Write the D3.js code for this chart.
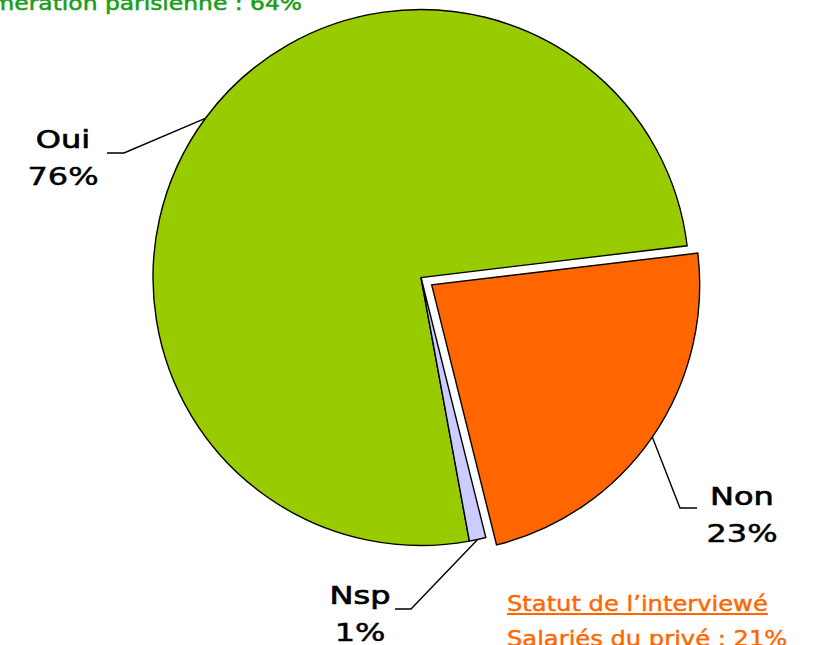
<!DOCTYPE html>
<html>
<head>
<meta charset="utf-8">
<script src="https://cdn.jsdelivr.net/npm/d3@7"></script>
<style>
  body { margin: 0; background: #fff; overflow: hidden; }
  svg { display: block; font-family: "DejaVu Sans", Verdana, sans-serif; }
</style>
</head>
<body>
<div id="chart"></div>
<script>
var svgWidth = 821;
var svgHeight = 645;

// data
var categories = ["Oui", "Non", "Nsp"];
var values = [76, 23, 1];
var colors = ["#99cc00", "#ff6600", "#ccccff"];
var explode = [0, 13, 0];
var pctLabels = ["76%", "23%", "1%"];

// label placement (text centre + leader elbow), per slice
var labelPos = [
  {x: 63, y: 148, elbowX: 124, lineY: 153, endX: 107},
  {x: 742, y: 505, elbowX: 680, lineY: 508, endX: 697},
  {x: 360, y: 604, elbowX: 411, lineY: 609, endX: 395}
];

var cx = 421, cy = 277.5, radius = 268;
var startDeg = 169.6;
var textScale = 1.28;

var svg = d3.select("#chart")
  .append("svg")
  .attr("width", svgWidth)
  .attr("height", svgHeight);

var pieData = d3.pie()
  .sort(null)
  .value(d => d)
  .startAngle(startDeg * Math.PI / 180)
  .endAngle(startDeg * Math.PI / 180 + 2 * Math.PI)(values);

var arc = d3.arc().innerRadius(0).outerRadius(radius);

var pieGroup = svg.append("g")
  .attr("transform", `translate(${cx}, ${cy})`);

function offset(d, i) {
  var mid = (d.startAngle + d.endAngle) / 2;
  return [explode[i] * Math.sin(mid), -explode[i] * Math.cos(mid)];
}

pieGroup.selectAll("path")
  .data(pieData)
  .enter()
  .append("path")
  .attr("transform", (d, i) => { var o = offset(d, i); return `translate(${o[0]}, ${o[1]})`; })
  .attr("d", arc)
  .attr("fill", (d, i) => colors[i])
  .attr("stroke", "#000")
  .attr("stroke-width", 1.4)
  .attr("stroke-linejoin", "miter");

// leader lines and labels
pieData.forEach(function(d, i) {
  var mid = (d.startAngle + d.endAngle) / 2;
  var o = offset(d, i);
  var px = cx + o[0] + radius * Math.sin(mid);
  var py = cy + o[1] - radius * Math.cos(mid);
  var lp = labelPos[i];
  svg.append("polyline")
    .attr("points", `${px},${py} ${lp.elbowX},${lp.lineY} ${lp.endX},${lp.lineY}`)
    .attr("fill", "none")
    .attr("stroke", "#000")
    .attr("stroke-width", 1.4);

  var g = svg.append("g")
    .attr("transform", `translate(${lp.x}, ${lp.y}) scale(${textScale}, 1)`);
  g.append("text")
    .attr("text-anchor", "middle")
    .attr("font-size", 25)
    .attr("fill", "#000")
    .attr("stroke", "#000")
    .attr("stroke-width", 0.7)
    .text(categories[i]);
  g.append("text")
    .attr("text-anchor", "middle")
    .attr("y", 37)
    .attr("font-size", 25)
    .attr("fill", "#000")
    .attr("stroke", "#000")
    .attr("stroke-width", 0.5)
    .text(pctLabels[i]);
});

// surrounding slide text
var topNote = svg.append("g")
  .attr("transform", "translate(302, 10) scale(1.17, 1)");
topNote.append("text")
  .attr("text-anchor", "end")
  .attr("font-size", 20)
  .attr("fill", "#169e16")
  .attr("stroke", "#169e16")
  .attr("stroke-width", 0.5)
  .text("Agglomération parisienne : 64%");

var statut = svg.append("g")
  .attr("transform", "translate(507, 611) scale(1.18, 1)");
var statutTitle = statut.append("text")
  .attr("font-size", 20.5)
  .attr("fill", "#ff6600")
  .attr("stroke", "#ff6600")
  .attr("stroke-width", 0.4)
  .text("Statut de l\u2019interviewé");
var tw = statutTitle.node().getComputedTextLength();
statut.append("line")
  .attr("x1", 0).attr("x2", tw)
  .attr("y1", 3).attr("y2", 3)
  .attr("stroke", "#ff6600")
  .attr("stroke-width", 2);
statut.append("text")
  .attr("y", 35)
  .attr("font-size", 20.5)
  .attr("fill", "#ff6600")
  .attr("stroke", "#ff6600")
  .attr("stroke-width", 0.4)
  .text("Salariés du privé : 21%");
</script>
</body>
</html>
